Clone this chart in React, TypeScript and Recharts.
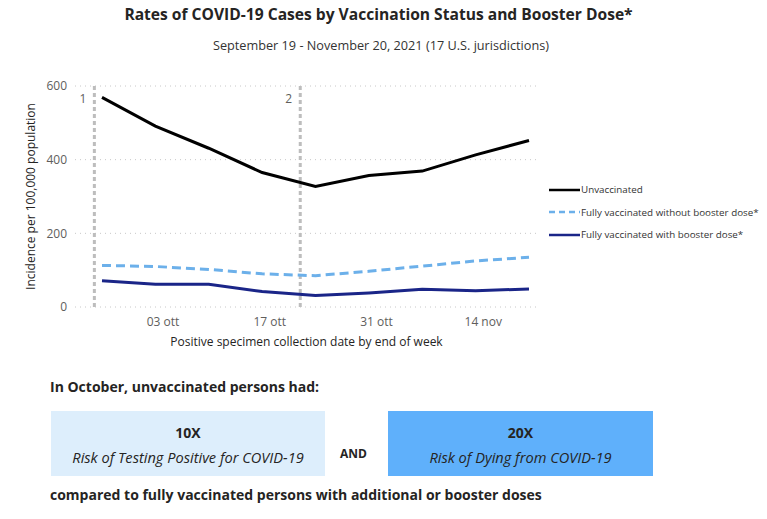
import { LineChart, Line, XAxis, YAxis, CartesianGrid, ReferenceLine } from 'recharts';

const weekEnding = ['2021-09-25', '2021-10-02', '2021-10-09', '2021-10-16', '2021-10-23', '2021-10-30', '2021-11-06', '2021-11-13', '2021-11-20'];
const unvaccinated = [569, 491, 431, 365, 327, 357, 369, 413, 452];
const withoutBooster = [113, 110, 102, 90, 85, 97, 111, 125, 135];
const withBooster = [71, 62, 62, 42, 31, 38, 48, 44, 49];

const tickDates = ['2021-10-03', '2021-10-17', '2021-10-31', '2021-11-14'];
const tickLabels = ['03 ott', '17 ott', '31 ott', '14 nov'];
const yTicks = [0, 200, 400, 600];
const markerDates = ['2021-09-24', '2021-10-21'];
const markerLabels = ['1', '2'];

const DAY = 86400000;
const ts = (d: string) => Date.parse(d + 'T00:00:00Z');

const data = weekEnding.map((d, i) => ({
  t: ts(d),
  unvax: unvaccinated[i],
  noBoost: withoutBooster[i],
  boost: withBooster[i],
}));

const FONT = '"Open Sans", "Noto Sans", sans-serif';
const GREY = '#605e5c';

const legendItems = [
  { label: 'Unvaccinated', color: '#000000', dash: false },
  { label: 'Fully vaccinated without booster dose*', color: '#6cb0ea', dash: true },
  { label: 'Fully vaccinated with booster dose*', color: '#1a2588', dash: false },
];

export default function App() {
  const tickTs = tickDates.map(ts);
  return (
    <div style={{ position: 'fixed', left: 0, top: 0, width: 767, height: 519, background: '#fff', fontFamily: FONT, color: '#252423' }}>
      <div style={{ position: 'absolute', left: 0, width: 757, top: 3, textAlign: 'center', fontWeight: 700, fontSize: 15.6 }}>
        Rates of COVID-19 Cases by Vaccination Status and Booster Dose*
      </div>
      <div style={{ position: 'absolute', left: 0, width: 762, top: 36, textAlign: 'center', fontSize: 12.7, color: '#333' }}>
        September 19 - November 20, 2021 (17 U.S. jurisdictions)
      </div>

      <div style={{ position: 'absolute', left: 0, top: 0 }}>
        <LineChart width={767} height={360} data={data} margin={{ top: 86, right: 229, left: 0, bottom: 0 }}>
          <CartesianGrid vertical={false} stroke="#c8c8c8" strokeDasharray="1 4" />
          <XAxis
            dataKey="t"
            type="number"
            scale="time"
            domain={[ts('2021-09-25') - 3.54 * DAY, ts('2021-11-20') + 1.18 * DAY]}
            ticks={tickTs}
            tickFormatter={(v: number) => tickLabels[tickTs.indexOf(v)] ?? ''}
            axisLine={false}
            tickLine={false}
            height={53}
            tick={{ fill: GREY, fontSize: 12, fontFamily: FONT }}
            tickMargin={4}
            label={{ value: 'Positive specimen collection date by end of week', position: 'insideBottom', offset: 14, fill: '#252423', fontSize: 12, fontFamily: FONT }}
          />
          <YAxis
            domain={[0, 600]}
            ticks={yTicks}
            width={75}
            axisLine={false}
            tickLine={false}
            tick={{ fill: GREY, fontSize: 12, fontFamily: FONT }}
            label={{ value: 'Incidence per 100,000 population', angle: -90, position: 'insideLeft', offset: 31, fill: '#252423', fontSize: 12, fontFamily: FONT, style: { textAnchor: 'middle' } }}
          />
          {markerDates.map((d, i) => (
            <ReferenceLine
              key={d}
              x={ts(d)}
              stroke="#bdbdbd"
              strokeWidth={3}
              strokeDasharray="4 3"
              label={{ value: markerLabels[i], position: 'insideTopRight', offset: 8, fill: GREY, fontSize: 12, fontFamily: FONT }}
            />
          ))}
          <Line dataKey="noBoost" stroke="#6cb0ea" strokeWidth={3} strokeDasharray="9 5" dot={false} isAnimationActive={false} />
          <Line dataKey="boost" stroke="#1a2588" strokeWidth={3} dot={false} isAnimationActive={false} />
          <Line dataKey="unvax" stroke="#000000" strokeWidth={3} dot={false} isAnimationActive={false} />
        </LineChart>
      </div>

      {legendItems.map((it, i) => (
        <div key={it.label} style={{ position: 'absolute', left: 549, top: 183 + i * 22.5, display: 'flex', alignItems: 'center', fontSize: 9.8, color: '#333', whiteSpace: 'nowrap' }}>
          <svg width={31} height={6} style={{ marginRight: 1 }}>
            <line x1={0} y1={3} x2={31} y2={3} stroke={it.color} strokeWidth={2.5} strokeDasharray={it.dash ? '6 4' : undefined} />
          </svg>
          {it.label}
        </div>
      ))}

      <div style={{ position: 'absolute', left: 50, top: 377, fontWeight: 700, fontSize: 14 }}>
        In October, unvaccinated persons had:
      </div>
      <div style={{ position: 'absolute', left: 51, top: 411, width: 274, height: 65, background: '#ddeefc', textAlign: 'center' }}>
        <div style={{ fontWeight: 700, fontSize: 14, marginTop: 12 }}>10X</div>
        <div style={{ fontStyle: 'italic', fontSize: 14.6, marginTop: 5 }}>Risk of Testing Positive for COVID-19</div>
      </div>
      <div style={{ position: 'absolute', left: 340, top: 445, fontWeight: 700, fontSize: 12 }}>AND</div>
      <div style={{ position: 'absolute', left: 388, top: 411, width: 265, height: 65, background: '#5fb0fb', textAlign: 'center' }}>
        <div style={{ fontWeight: 700, fontSize: 14, marginTop: 12 }}>20X</div>
        <div style={{ fontStyle: 'italic', fontSize: 14.6, marginTop: 5 }}>Risk of Dying from COVID-19</div>
      </div>
      <div style={{ position: 'absolute', left: 50, top: 485, fontWeight: 700, fontSize: 14 }}>
        compared to fully vaccinated persons with additional or booster doses
      </div>
    </div>
  );
}
